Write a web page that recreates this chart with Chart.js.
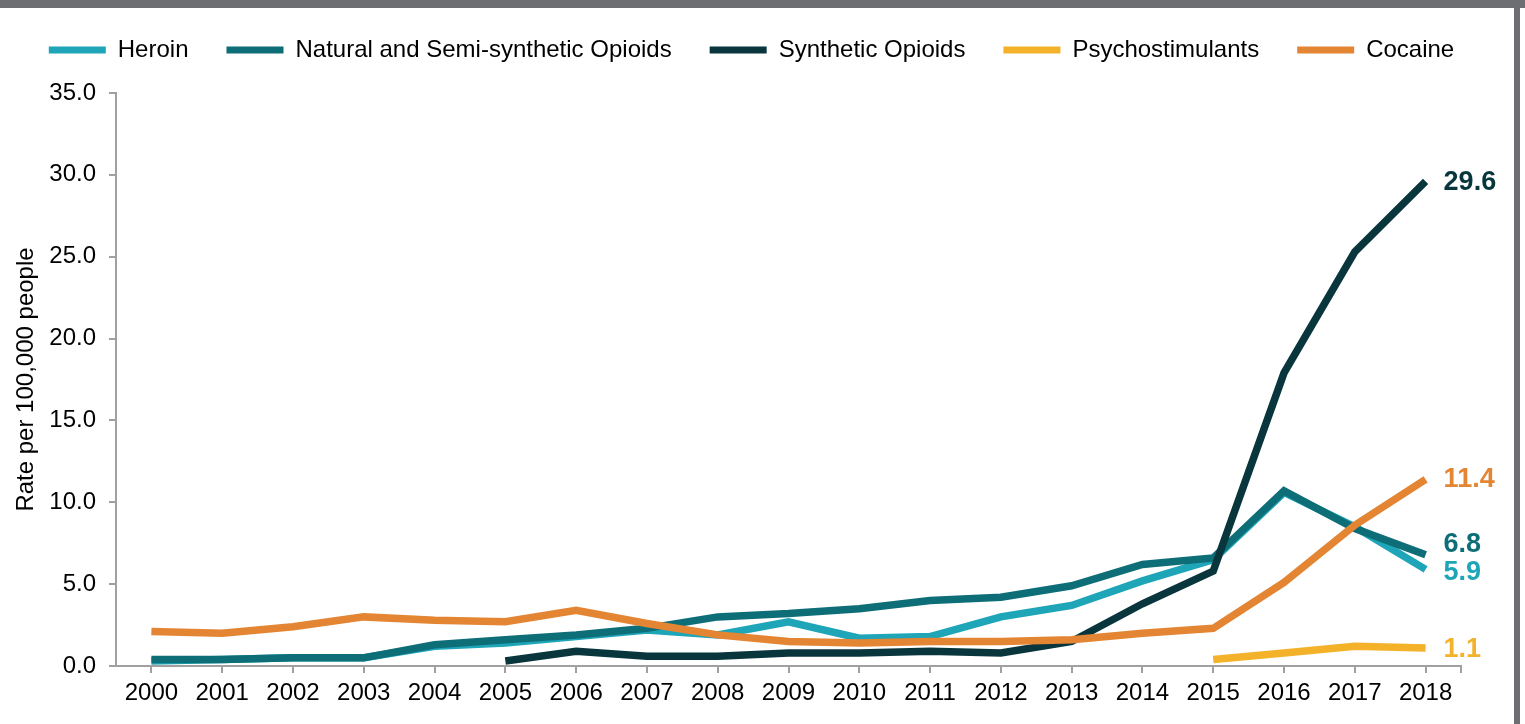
<!DOCTYPE html>
<html>
<head>
<meta charset="utf-8">
<script src="https://cdn.jsdelivr.net/npm/chart.js@4.4.1/dist/chart.umd.min.js"></script>
<style>
  html, body { margin: 0; padding: 0; background: #ffffff; }
  #wrap { position: relative; width: 1525px; height: 724px; }
  canvas { display: block; }
</style>
</head>
<body>
<div id="wrap"><canvas id="c" width="1525" height="724"></canvas></div>
<script>
const years = ["2000","2001","2002","2003","2004","2005","2006","2007","2008","2009","2010","2011","2012","2013","2014","2015","2016","2017","2018"];
const heroin    = [0.3, 0.4, 0.5, 0.5, 1.2, 1.4, 1.8, 2.2, 1.9, 2.7, 1.7, 1.8, 3.0, 3.7, 5.2, 6.5, 10.6, 8.5, 5.9];
const natural   = [0.4, 0.4, 0.5, 0.5, 1.3, 1.6, 1.9, 2.3, 3.0, 3.2, 3.5, 4.0, 4.2, 4.9, 6.2, 6.6, 10.7, 8.4, 6.8];
const synthetic = [null, null, null, null, null, 0.3, 0.9, 0.6, 0.6, 0.8, 0.8, 0.9, 0.8, 1.5, 3.8, 5.8, 17.9, 25.3, 29.6];
const psycho    = [null, null, null, null, null, null, null, null, null, null, null, null, null, null, null, 0.4, 0.8, 1.2, 1.1];
const cocaine   = [2.1, 2.0, 2.4, 3.0, 2.8, 2.7, 3.4, 2.6, 1.9, 1.5, 1.4, 1.5, 1.5, 1.6, 2.0, 2.3, 5.1, 8.6, 11.4];
const seriesNames = ["Heroin", "Natural and Semi-synthetic Opioids", "Synthetic Opioids", "Psychostimulants", "Cocaine"];
const yTicks = [0, 5, 10, 15, 20, 25, 30, 35];
const yTitle = "Rate per 100,000 people";

const colors = ["#1ea5b8", "#0e6e78", "#09363d", "#f3b229", "#e38533"];
const drawOrder = [5, 4, 3, 2, 1];
const labelDy = [3, -10, 1, 2, 0];
const FONT = '"Liberation Sans", Arial, Helvetica, sans-serif';
const AXIS = "#a0a0a0";

const seriesData = [heroin, natural, synthetic, psycho, cocaine];
const datasets = seriesData.map((d, i) => ({
  label: seriesNames[i],
  data: d,
  borderColor: colors[i],
  backgroundColor: colors[i],
  borderWidth: 7.5,
  pointRadius: 0,
  pointHoverRadius: 0,
  tension: 0,
  spanGaps: false,
  fill: false,
  order: drawOrder[i],
  yAxisID: 'y'
}));

const legendHeight = {
  id: 'legendHeight',
  beforeInit(chart) {
    const orig = chart.legend.fit;
    chart.legend.fit = function () { orig.call(this); this.height = 93; };
  }
};

const frame = {
  id: 'frame',
  afterDraw(chart) {
    const ctx = chart.ctx;
    const a = chart.chartArea;
    ctx.save();
    ctx.strokeStyle = AXIS;
    ctx.lineWidth = 2;
    ctx.beginPath();
    ctx.moveTo(a.right, a.bottom);
    ctx.lineTo(a.right, a.bottom + 7);
    ctx.stroke();
    ctx.fillStyle = "#6d6e71";
    ctx.fillRect(0, 0, chart.width, 8);
    ctx.fillRect(1514, 0, 6, chart.height);
    ctx.restore();
  }
};

const endLabels = {
  id: 'endLabels',
  afterDatasetsDraw(chart) {
    const ctx = chart.ctx;
    chart.data.datasets.forEach((ds, i) => {
      const meta = chart.getDatasetMeta(i);
      const last = meta.data[meta.data.length - 1];
      const v = ds.data[ds.data.length - 1];
      ctx.save();
      ctx.font = 'bold 27px ' + FONT;
      ctx.fillStyle = ds.borderColor;
      ctx.textAlign = 'left';
      ctx.textBaseline = 'middle';
      ctx.fillText(v.toFixed(1), last.x + 18, last.y + labelDy[i]);
      ctx.restore();
    });
  }
};

new Chart(document.getElementById('c'), {
  type: 'line',
  data: { labels: years, datasets: datasets },
  options: {
    responsive: false,
    animation: false,
    events: [],
    layout: { padding: { left: 0, right: 22, top: 0, bottom: 0 } },
    plugins: {
      tooltip: { enabled: false },
      legend: {
        display: true,
        position: 'top',
        align: 'center',
        labels: {
          font: { family: FONT, size: 24 },
          color: '#000000',
          boxWidth: 57,
          boxHeight: 7,
          padding: 38,
          generateLabels(chart) {
            return chart.data.datasets.map((ds, i) => ({
              text: ds.label,
              fillStyle: ds.borderColor,
              strokeStyle: ds.borderColor,
              lineWidth: 0,
              hidden: false,
              datasetIndex: i,
              fontColor: '#000000'
            }));
          }
        }
      }
    },
    scales: {
      x: {
        type: 'category',
        offset: true,
        afterFit(scale) { scale.height = 58; },
        border: { display: true, color: AXIS, width: 2 },
        grid: { display: true, drawOnChartArea: false, drawTicks: true, tickLength: 7, color: AXIS, lineWidth: 2, offset: false },
        ticks: { font: { family: FONT, size: 24 }, color: '#000000', padding: 6, autoSkip: false, maxRotation: 0, minRotation: 0 }
      },
      y: {
        position: 'left',
        min: 0,
        max: 35,
        afterFit(scale) { scale.width = 116; },
        afterBuildTicks(scale) { scale.ticks = yTicks.map(v => ({ value: v })); },
        border: { display: true, color: AXIS, width: 2 },
        grid: { display: true, drawOnChartArea: false, drawTicks: true, tickLength: 7, color: AXIS, lineWidth: 2 },
        ticks: { font: { family: FONT, size: 24 }, color: '#000000', padding: 13, callback: v => Number(v).toFixed(1) },
        title: { display: true, text: yTitle, font: { family: FONT, size: 24 }, color: '#000000', padding: { top: 12, bottom: 0 } }
      },
      yRight: {
        position: 'right',
        min: 0,
        max: 35,
        afterFit(scale) { scale.width = 42; },
        border: { display: false },
        grid: { display: false },
        ticks: { display: false }
      }
    }
  },
  plugins: [legendHeight, endLabels, frame]
});
</script>
</body>
</html>
